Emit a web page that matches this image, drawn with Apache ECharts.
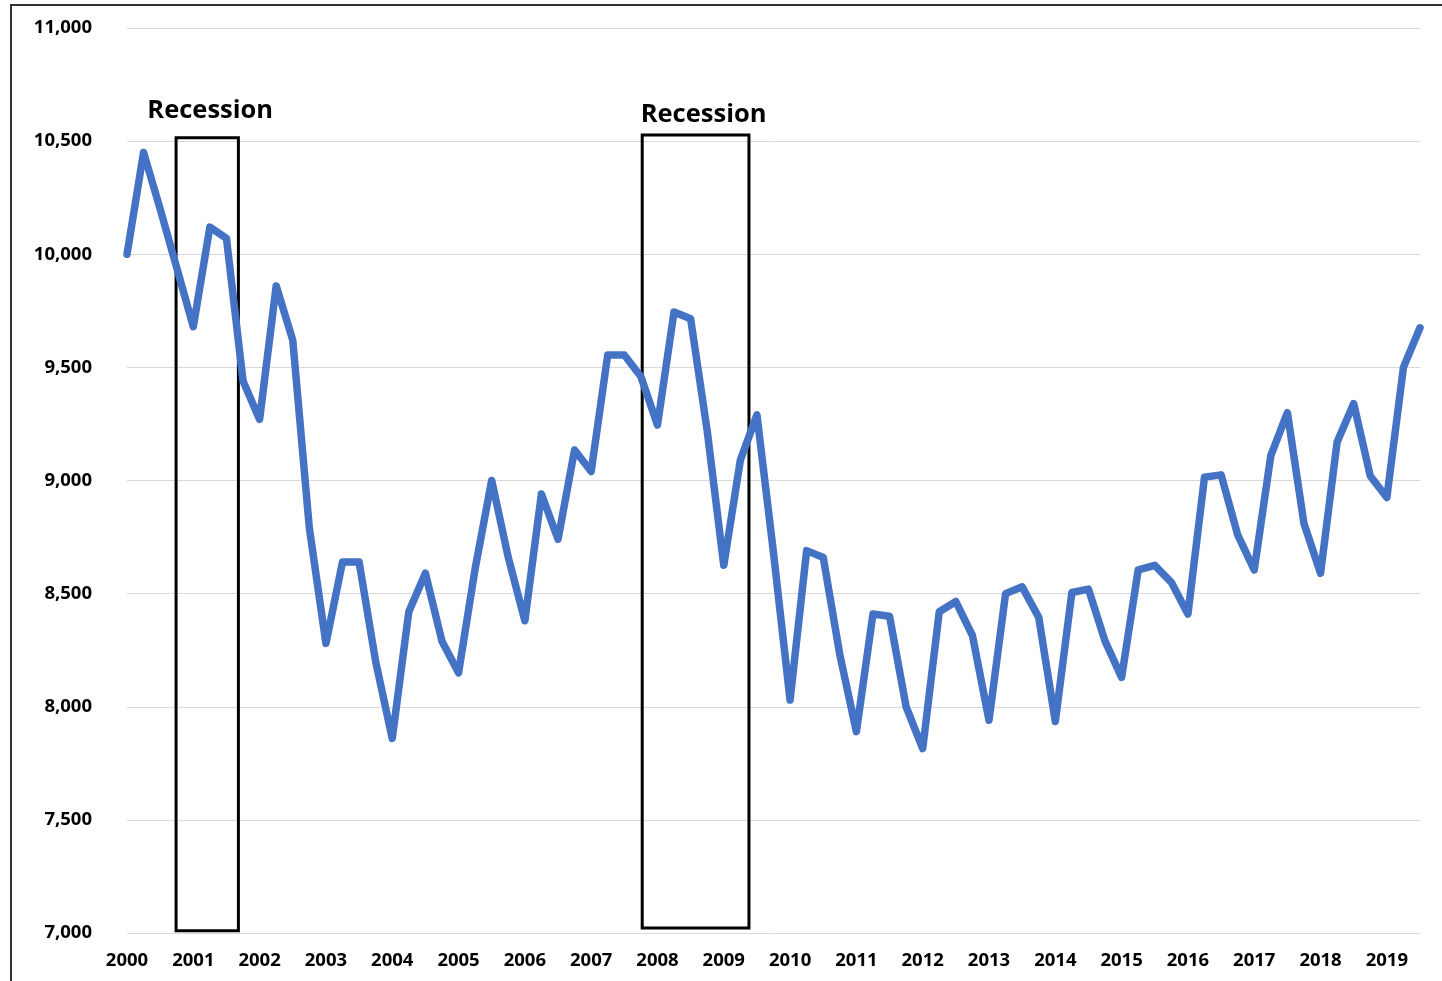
<!DOCTYPE html>
<html>
<head>
<meta charset="utf-8">
<script src="https://cdn.jsdelivr.net/npm/echarts@6/dist/echarts.min.js"></script>
<style>
  html, body { margin: 0; padding: 0; background: #fff; }
  #chart { width: 1442px; height: 981px; }
</style>
</head>
<body>
<div id="chart"></div>
<script>
// quarterly values, 2000 Q1 .. 2019 Q3
const startYear = 2000;
const values = [
  10000, 10450, 10200, 9940, 9680, 10120, 10070, 9440,
  9270, 9860, 9620, 8790, 8280, 8640, 8640, 8200,
  7860, 8420, 8590, 8290, 8150, 8610, 9000, 8660,
  8380, 8940, 8740, 9135, 9040, 9555, 9555, 9460,
  9245, 9745, 9715, 9220, 8625, 9090, 9290, 8680,
  8030, 8690, 8660, 8230, 7890, 8410, 8400, 8000,
  7815, 8420, 8465, 8315, 7940, 8500, 8530, 8395,
  7935, 8505, 8520, 8290, 8130, 8605, 8625, 8550,
  8410, 9015, 9025, 8760, 8605, 9110, 9300, 8810,
  8590, 9170, 9340, 9020, 8925, 9500, 9675
];

// recession boxes: [x start, x end, y top, y bottom]
const recessions = [
  [2000.74, 2001.68, 10515, 7010],
  [2007.77, 2009.38, 10527, 7022]
];
const recessionLabel = 'Recession';

const seriesData = values.map((v, i) => [startYear + i / 4, v]);

const chart = echarts.init(document.getElementById('chart'));

const font = '"Open Sans", "Liberation Sans", sans-serif';

const option = {
  animation: false,
  backgroundColor: '#fff',
  grid: { left: 127, right: 22, top: 28, bottom: 48 },
  graphic: [
    {
      type: 'polyline',
      shape: { points: [[11, 981], [11, 5], [1442, 5]] },
      style: { stroke: '#333', lineWidth: 2, fill: null }
    }
  ],
  xAxis: {
    type: 'value',
    min: 2000,
    max: 2019.5,
    interval: 1,
    axisLine: { show: false },
    axisTick: { show: false },
    splitLine: { show: false },
    axisLabel: {
      showMaxLabel: false,
      margin: 18,
      color: '#000',
      fontFamily: font,
      fontWeight: 'bold',
      fontSize: 18.5,
      formatter: (v) => String(v)
    }
  },
  yAxis: {
    type: 'value',
    min: 7000,
    max: 11000,
    interval: 500,
    axisLine: { show: false },
    axisTick: { show: false },
    splitLine: { lineStyle: { color: '#d9d9d9', width: 1 } },
    axisLabel: {
      margin: 35,
      color: '#000',
      fontFamily: font,
      fontWeight: 'bold',
      fontSize: 18.5,
      formatter: (v) => v.toLocaleString('en-US')
    }
  },
  series: [
    {
      type: 'line',
      data: seriesData,
      symbol: 'none',
      lineStyle: { color: '#4472C4', width: 7.5, cap: 'round', join: 'round' },
      markArea: {
        silent: true,
        itemStyle: { color: 'rgba(0,0,0,0)', borderColor: '#000', borderWidth: 3 },
        label: {
          show: true,
          position: 'top',
          color: '#000',
          fontFamily: font,
          fontWeight: 'bold',
          fontSize: 25.5
        },
        data: recessions.map((r, k) => [
          {
            name: recessionLabel,
            xAxis: r[0],
            yAxis: r[2],
            label: { distance: k === 0 ? 12 : 6, offset: [k === 0 ? 3 : 8, 0] }
          },
          { xAxis: r[1], yAxis: r[3] }
        ])
      }
    }
  ]
};

chart.setOption(option);
window.addEventListener('resize', () => chart.resize());
</script>
</body>
</html>
